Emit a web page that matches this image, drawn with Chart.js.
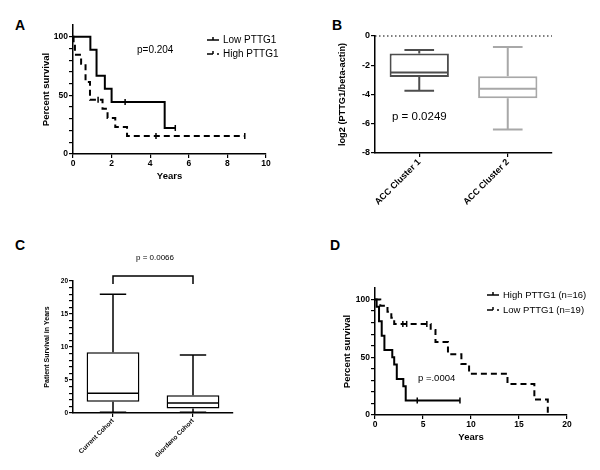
<!DOCTYPE html>
<html>
<head>
<meta charset="utf-8">
<script src="https://cdn.jsdelivr.net/npm/chart.js@4.4.0/dist/chart.umd.min.js"></script>
<style>
  body { margin: 0; background: #fff; width: 600px; height: 470px; position: relative; overflow: hidden;
         font-family: "Liberation Sans", Arial, sans-serif; }
  canvas { position: absolute; }
  .lbl { position: absolute; font-weight: bold; font-size: 14px; line-height: 14px; }
</style>
</head>
<body>
<div class="lbl" style="left:15px;top:18px">A</div>
<div class="lbl" style="left:332px;top:18px">B</div>
<div class="lbl" style="left:15px;top:238px">C</div>
<div class="lbl" style="left:330px;top:238px">D</div>
<canvas id="cA" width="300" height="235" style="left:0;top:0"></canvas>
<canvas id="cB" width="300" height="235" style="left:300px;top:0"></canvas>
<canvas id="cC" width="300" height="235" style="left:0;top:235px"></canvas>
<canvas id="cD" width="300" height="235" style="left:300px;top:235px"></canvas>
<script>
// ---- A: survival by PTTG1 ----
const aYearTicks = [0, 2, 4, 6, 8, 10];
const aPctTicks = [0, 50, 100];
const aLowT = [0, 0.9, 1.22, 1.65, 2.0, 4.75, 5.3];
const aLowS = [100, 88.9, 66.7, 55.6, 44.4, 22.2, 22.2];
const aLowCensT = [2.7, 5.3];
const aLowCensS = [44.4, 22.2];
const aHighT = [0, 0.03, 0.1, 0.42, 0.65, 0.88, 1.53, 1.79, 2.19, 2.8, 8.9];
const aHighS = [100, 92.3, 84.6, 76.9, 61.5, 46.2, 38.5, 30.8, 23.1, 15.4, 15.4];
const aHighCensT = [1.3, 4.3, 8.9];
const aHighCensS = [46.2, 15.4, 15.4];

// ---- B: expression by cluster ----
const bCats = ['ACC Cluster 1', 'ACC Cluster 2'];
const bTicks = [0, -2, -4, -6, -8];
const bMin = [-3.75, -6.4];
const bQ1 = [-2.8, -4.25];
const bMed = [-2.5, -3.6];
const bQ3 = [-1.2, -2.75];
const bMax = [-0.95, -0.75];

// ---- C: survival by cohort ----
const cCats = ['Current Cohort', 'Giordano Cohort'];
const cTicks = [0, 5, 10, 15, 20];
const cMin = [0.1, 0.1];
const cQ1 = [1.7, 0.7];
const cMed = [3.0, 1.5];
const cQ3 = [9.2, 2.7];
const cMax = [18, 8.8];

// ---- D: survival by PTTG1, second cohort ----
const dYearTicks = [0, 5, 10, 15, 20];
const dPctTicks = [0, 50, 100];
const dHighT = [0, 0.17, 0.42, 0.7, 0.98, 1.8, 2.0, 2.27, 2.95, 3.2, 8.85];
const dHighS = [100, 93.75, 81.25, 68.75, 56.25, 50, 43.75, 31.25, 25, 12.5, 12.5];
const dHighCensT = [4.4, 8.85];
const dHighCensS = [12.5, 12.5];
const dLowT = [0, 0.55, 1.3, 1.7, 2.0, 5.8, 6.3, 7.6, 9.0, 9.8, 13.8, 16.6, 18];
const dLowS = [100, 94.7, 89.5, 84.2, 78.9, 73.7, 63.2, 52.6, 44.2, 35.8, 26.8, 13.4, 0];
const dLowCensT = [2.9, 3.3, 5.4];
const dLowCensS = [78.9, 78.9, 78.9];

Chart.defaults.font.family = '"Liberation Sans", Arial, sans-serif';
Chart.defaults.color = '#000';
Chart.defaults.animation = false;
Chart.defaults.plugins.legend.display = false;
Chart.defaults.plugins.tooltip.enabled = false;

const FONT = '"Liberation Sans", Arial, sans-serif';

// major ticks get labels, minor ones only a tick mark
function tickList(major, step) {
  const lo = Math.min(...major), hi = Math.max(...major);
  const out = [];
  for (let k = 0; lo + k * step <= hi + 1e-9; k++) out.push({ value: +(lo + k * step).toFixed(4) });
  return out;
}

function linAxis(min, max, major, step, o) {
  return {
    type: 'linear', min, max, position: o.position,
    afterBuildTicks: ax => { ax.ticks = tickList(major, step); },
    afterFit: ax => { if (o.w) ax.width = o.w; if (o.h) ax.height = o.h; },
    ticks: { autoSkip: false, maxRotation: 0, font: o.tickFont, padding: 1,
             callback: v => major.includes(v) ? v : '' },
    grid: { drawOnChartArea: false, tickLength: 4, color: '#000', lineWidth: 1.2 },
    border: { color: '#000', width: 1.5 },
    title: { display: !!o.title, text: o.title, font: o.titleFont, padding: 0 }
  };
}

function catAxis(o) {
  return {
    type: 'category', offset: true,
    afterFit: ax => { ax.height = o.h; },
    ticks: { font: o.font, minRotation: 45, maxRotation: 45, padding: 0, autoSkip: false },
    grid: { drawOnChartArea: false, offset: false, tickLength: 4, color: '#000', lineWidth: 1.2 },
    border: { color: '#000', width: 1.5 }
  };
}

function kmSet(label, T, S, dash) {
  return { label, data: T.map((t, i) => ({ x: t, y: S[i] })), stepped: 'before',
           borderColor: '#000', borderWidth: 2, borderDash: dash, pointRadius: 0, fill: false, clip: false };
}

function censSet(T, S) {
  return { data: T.map((t, i) => ({ x: t, y: S[i] })), showLine: false,
           pointStyle: 'line', pointRotation: 90, pointRadius: 3, pointBorderWidth: 1.5,
           pointBorderColor: '#000', clip: false };
}

// legend + p-value text
const overlay = {
  id: 'overlay',
  afterDraw(chart, args, o) {
    const ctx = chart.ctx;
    ctx.save();
    ctx.fillStyle = '#000';
    ctx.strokeStyle = '#000';
    ctx.textAlign = 'left';
    ctx.textBaseline = 'middle';
    (o.texts || []).forEach(t => {
      ctx.font = t.font;
      ctx.fillText(t.text, t.x, t.y);
    });
    (o.legend || []).forEach(l => {
      const ds = chart.data.datasets[l.ds];
      ctx.lineWidth = 1.5;
      ctx.setLineDash(ds.borderDash || []);
      ctx.beginPath();
      ctx.moveTo(l.x, l.y); ctx.lineTo(l.x + 12, l.y);
      ctx.stroke();
      ctx.setLineDash([]);
      ctx.beginPath();
      ctx.moveTo(l.x + 6, l.y - 3); ctx.lineTo(l.x + 6, l.y);
      ctx.stroke();
      ctx.font = o.legendFont;
      ctx.fillText(ds.label, l.x + 16, l.y);
    });
    ctx.restore();
  }
};

// whiskers, medians and extras for the box plots
const boxParts = {
  id: 'boxParts',
  afterDatasetsDraw(chart, args, o) {
    if (!o.med) return;
    const ctx = chart.ctx, y = chart.scales.y, area = chart.chartArea;
    const bars = chart.getDatasetMeta(0).data;
    ctx.save();
    if (o.zeroLine) {
      const y0 = y.getPixelForValue(0);
      ctx.strokeStyle = '#000'; ctx.lineWidth = 1.2; ctx.setLineDash([1.5, 2.5]);
      ctx.beginPath(); ctx.moveTo(area.left, y0); ctx.lineTo(area.right, y0); ctx.stroke();
      ctx.setLineDash([]);
    }
    bars.forEach((bar, i) => {
      const half = bar.width / 2 - o.lineWidth / 2, cap = bar.width * 0.25;
      const yMed = y.getPixelForValue(o.med[i]);
      const yMax = y.getPixelForValue(o.max[i]), yMin = y.getPixelForValue(o.min[i]);
      const yQ3 = y.getPixelForValue(o.q3[i]), yQ1 = y.getPixelForValue(o.q1[i]);
      ctx.strokeStyle = o.colors[i]; ctx.lineWidth = o.lineWidth;
      ctx.beginPath();
      ctx.moveTo(bar.x - half, yMed); ctx.lineTo(bar.x + half, yMed);
      ctx.moveTo(bar.x, yQ3); ctx.lineTo(bar.x, yMax);
      ctx.moveTo(bar.x - cap, yMax); ctx.lineTo(bar.x + cap, yMax);
      ctx.moveTo(bar.x, yQ1); ctx.lineTo(bar.x, yMin);
      ctx.moveTo(bar.x - cap, yMin); ctx.lineTo(bar.x + cap, yMin);
      ctx.stroke();
    });
    if (o.bracket) {
      const x0 = bars[0].x, x1 = bars[1].x, yb = area.top - 5;
      ctx.strokeStyle = '#000'; ctx.lineWidth = 1.5;
      ctx.beginPath();
      ctx.moveTo(x0, yb + 8); ctx.lineTo(x0, yb); ctx.lineTo(x1, yb); ctx.lineTo(x1, yb + 8);
      ctx.stroke();
      ctx.fillStyle = '#000'; ctx.font = o.bracket.font;
      ctx.textAlign = 'center'; ctx.textBaseline = 'middle';
      ctx.fillText(o.bracket.text, (x0 + x1) / 2 + 2, yb - 18);
    }
    ctx.restore();
  }
};

Chart.register(overlay, boxParts);

const tickF = { family: FONT, size: 8.5, weight: 'bold' };
const titleF = { family: FONT, size: 9.5, weight: 'bold' };

// A
new Chart(document.getElementById('cA'), {
  type: 'line',
  data: {
    datasets: [
      kmSet('Low PTTG1', aLowT, aLowS, []),
      kmSet('High PTTG1', aHighT, aHighS, [6, 4]),
      censSet(aLowCensT, aLowCensS),
      censSet(aHighCensT, aHighCensS)
    ]
  },
  options: {
    responsive: false,
    layout: { padding: { left: 41, top: 25, right: 34, bottom: 53 } },
    scales: {
      x: linAxis(0, 10, aYearTicks, 2, { position: 'bottom', h: 28, tickFont: tickF, title: 'Years', titleFont: titleF }),
      y: linAxis(0, 110, aPctTicks, 10, { position: 'left', w: 32, tickFont: tickF, title: 'Percent survival', titleFont: titleF })
    },
    plugins: {
      overlay: {
        legendFont: '10px ' + FONT,
        legend: [{ ds: 0, x: 207, y: 40 }, { ds: 1, x: 207, y: 54 }],
        texts: [{ text: 'p=0.204', x: 137, y: 50, font: '10px ' + FONT }]
      }
    }
  }
});

// B
new Chart(document.getElementById('cB'), {
  type: 'bar',
  data: {
    labels: bCats,
    datasets: [{
      data: bQ1.map((v, i) => [v, bQ3[i]]),
      backgroundColor: '#fff', borderColor: ['#4d4d4d', '#a8a8a8'], borderWidth: 2,
      borderSkipped: false, barPercentage: 0.67, categoryPercentage: 1
    }]
  },
  options: {
    responsive: false,
    layout: { padding: { left: 37, top: 36, right: 48, bottom: 22 } },
    scales: {
      x: catAxis({ h: 60, font: { family: FONT, size: 9, weight: 'bold' } }),
      y: linAxis(-8, 0, bTicks, 2, { position: 'left', w: 38, tickFont: { family: FONT, size: 9, weight: 'bold' },
                                     title: 'log2 (PTTG1/beta-actin)', titleFont: { family: FONT, size: 9.2, weight: 'bold' } })
    },
    plugins: {
      boxParts: { min: bMin, q1: bQ1, med: bMed, q3: bQ3, max: bMax, colors: ['#4d4d4d', '#a8a8a8'], lineWidth: 2, zeroLine: true },
      overlay: { texts: [{ text: 'p = 0.0249', x: 92, y: 117, font: '11.5px ' + FONT }] }
    }
  }
});

// C
new Chart(document.getElementById('cC'), {
  type: 'bar',
  data: {
    labels: cCats,
    datasets: [{
      data: cQ1.map((v, i) => [v, cQ3[i]]),
      backgroundColor: '#fff', borderColor: '#000', borderWidth: 1.5,
      borderSkipped: false, barPercentage: 0.66, categoryPercentage: 1
    }]
  },
  options: {
    responsive: false,
    layout: { padding: { left: 43, top: 46, right: 67, bottom: 7 } },
    scales: {
      x: catAxis({ h: 50, font: { family: FONT, size: 6.5, weight: 'bold' } }),
      y: linAxis(0, 20, cTicks, 1, { position: 'left', w: 30, tickFont: { family: FONT, size: 6.5, weight: 'bold' },
                                    title: 'Patient Survival in Years', titleFont: { family: FONT, size: 7, weight: 'bold' } })
    },
    plugins: {
      boxParts: { min: cMin, q1: cQ1, med: cMed, q3: cQ3, max: cMax, colors: ['#000', '#000'], lineWidth: 1.5,
                  bracket: { text: 'p = 0.0066', font: '8px ' + FONT } }
    }
  }
});

// D
new Chart(document.getElementById('cD'), {
  type: 'line',
  data: {
    datasets: [
      kmSet('High PTTG1 (n=16)', dHighT, dHighS, []),
      kmSet('Low PTTG1 (n=19)', dLowT, dLowS, [6, 4]),
      censSet(dHighCensT, dHighCensS),
      censSet(dLowCensT, dLowCensS)
    ]
  },
  options: {
    responsive: false,
    layout: { padding: { left: 42, top: 53, right: 33, bottom: 27 } },
    scales: {
      x: linAxis(0, 20, dYearTicks, 5, { position: 'bottom', h: 28, tickFont: tickF, title: 'Years', titleFont: titleF }),
      y: linAxis(0, 110, dPctTicks, 10, { position: 'left', w: 33, tickFont: tickF, title: 'Percent survival', titleFont: titleF })
    },
    plugins: {
      overlay: {
        legendFont: '9.5px ' + FONT,
        legend: [{ ds: 0, x: 187, y: 60 }, { ds: 1, x: 187, y: 75 }],
        texts: [{ text: 'p =.0004', x: 118, y: 143, font: '9.5px ' + FONT }]
      }
    }
  }
});
</script>
</body>
</html>
